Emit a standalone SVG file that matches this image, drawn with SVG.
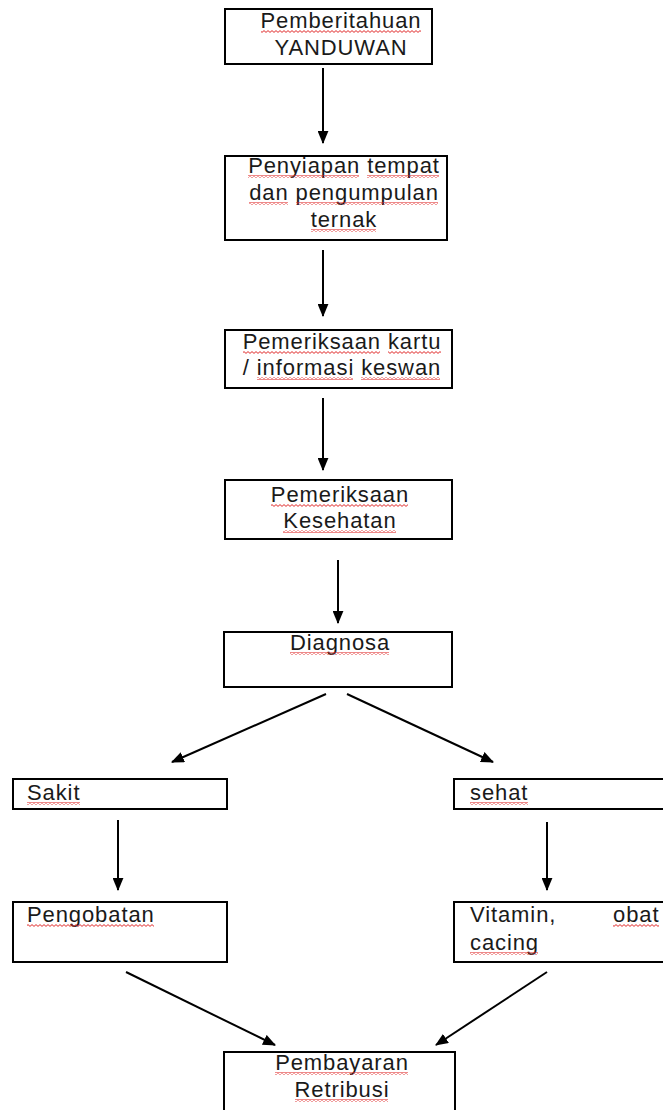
<svg xmlns="http://www.w3.org/2000/svg" width="663" height="1110" viewBox="0 0 663 1110">
<style>
.box{fill:#fff;stroke:#000;stroke-width:2}
.t{font-family:"Liberation Sans",Arial,sans-serif;font-size:22px;letter-spacing:0.9px;fill:#1a1a1a}
.c{text-anchor:middle}
.ln{stroke:#000;stroke-width:2;fill:none;marker-end:url(#ah)}
.sq{fill:url(#wave)}
</style>
<defs>
<marker id="ah" viewBox="0 0 12 10" refX="11" refY="5" markerWidth="13" markerHeight="11" markerUnits="userSpaceOnUse" orient="auto">
<path d="M0,0 L12,5 L0,10 z" fill="#000"/>
</marker>
<pattern id="wave" width="4" height="3" patternUnits="userSpaceOnUse">
<path d="M0,0.6 L2,2.4 L4,0.6" fill="none" stroke="#e02a2a" stroke-width="1"/>
</pattern>
</defs>
<rect width="663" height="1110" fill="#fff"/>
<g id="connectors">
<line class="ln" x1="323" y1="68" x2="323" y2="143"/>
<line class="ln" x1="323" y1="250" x2="323" y2="316"/>
<line class="ln" x1="323" y1="398" x2="323" y2="470"/>
<line class="ln" x1="338" y1="560" x2="338" y2="623"/>
<line class="ln" x1="326" y1="694" x2="172" y2="762"/>
<line class="ln" x1="347" y1="694" x2="493" y2="762"/>
<line class="ln" x1="118" y1="820" x2="118" y2="890"/>
<line class="ln" x1="547" y1="822" x2="547" y2="890"/>
<line class="ln" x1="126" y1="972" x2="275" y2="1045"/>
<line class="ln" x1="547" y1="972" x2="436" y2="1045"/>
</g>
<g id="n1">
<rect class="box" x="225" y="9" width="207" height="55"/>
<text class="t c" x="341" y="28">Pemberitahuan</text>
<text class="t c" x="341" y="55">YANDUWAN</text>
<rect class="sq" x="261" y="30" width="160" height="3"/>
</g>
<g id="n2">
<rect class="box" x="225" y="156" width="222" height="84"/>
<text class="t c" x="344" y="173">Penyiapan tempat</text>
<text class="t c" x="344" y="200">dan pengumpulan</text>
<text class="t c" x="344" y="227">ternak</text>
<rect class="sq" x="248" y="175" width="111" height="3"/>
<rect class="sq" x="367" y="175" width="72" height="3"/>
<rect class="sq" x="249" y="202" width="39" height="3"/>
<rect class="sq" x="296" y="202" width="142" height="3"/>
<rect class="sq" x="311" y="229" width="65" height="3"/>
</g>
<g id="n3">
<rect class="box" x="225" y="330" width="227" height="58"/>
<text class="t c" x="342" y="349">Pemeriksaan kartu</text>
<text class="t c" x="342" y="375">/ informasi keswan</text>
<rect class="sq" x="243" y="351" width="137" height="3"/>
<rect class="sq" x="388" y="351" width="53" height="3"/>
<rect class="sq" x="257" y="377" width="96" height="3"/>
<rect class="sq" x="361" y="377" width="79" height="3"/>
</g>
<g id="n4">
<rect class="box" x="225" y="480" width="227" height="59"/>
<text class="t c" x="340" y="502">Pemeriksaan</text>
<text class="t c" x="340" y="528">Kesehatan</text>
<rect class="sq" x="271" y="504" width="137" height="3"/>
<rect class="sq" x="283" y="530" width="113" height="3"/>
</g>
<g id="n5">
<rect class="box" x="224" y="632" width="228" height="55"/>
<text class="t c" x="340" y="650">Diagnosa</text>
<rect class="sq" x="290" y="652" width="99" height="3"/>
</g>
<g id="n6">
<rect class="box" x="13" y="779" width="214" height="30"/>
<text class="t" x="27" y="800">Sakit</text>
<rect class="sq" x="27" y="802" width="53" height="3"/>
</g>
<g id="n7">
<rect class="box" x="454" y="779" width="215" height="30"/>
<text class="t" x="470" y="800">sehat</text>
<rect class="sq" x="470" y="802" width="58" height="3"/>
</g>
<g id="n8">
<rect class="box" x="13" y="902" width="214" height="60"/>
<text class="t" x="27" y="922">Pengobatan</text>
<rect class="sq" x="27" y="924" width="127" height="3"/>
</g>
<g id="n9">
<rect class="box" x="454" y="902" width="215" height="60"/>
<text class="t" x="470" y="922">Vitamin,</text>
<text class="t" x="613" y="922">obat</text>
<text class="t" x="470" y="950">cacing</text>
<rect class="sq" x="613" y="924" width="46" height="3"/>
<rect class="sq" x="470" y="952" width="68" height="3"/>
</g>
<g id="n10">
<rect class="box" x="224" y="1052" width="231" height="70"/>
<text class="t c" x="342" y="1070">Pembayaran</text>
<text class="t c" x="342" y="1097">Retribusi</text>
<rect class="sq" x="275" y="1072" width="133" height="3"/>
<rect class="sq" x="295" y="1099" width="93" height="3"/>
</g>
</svg>
